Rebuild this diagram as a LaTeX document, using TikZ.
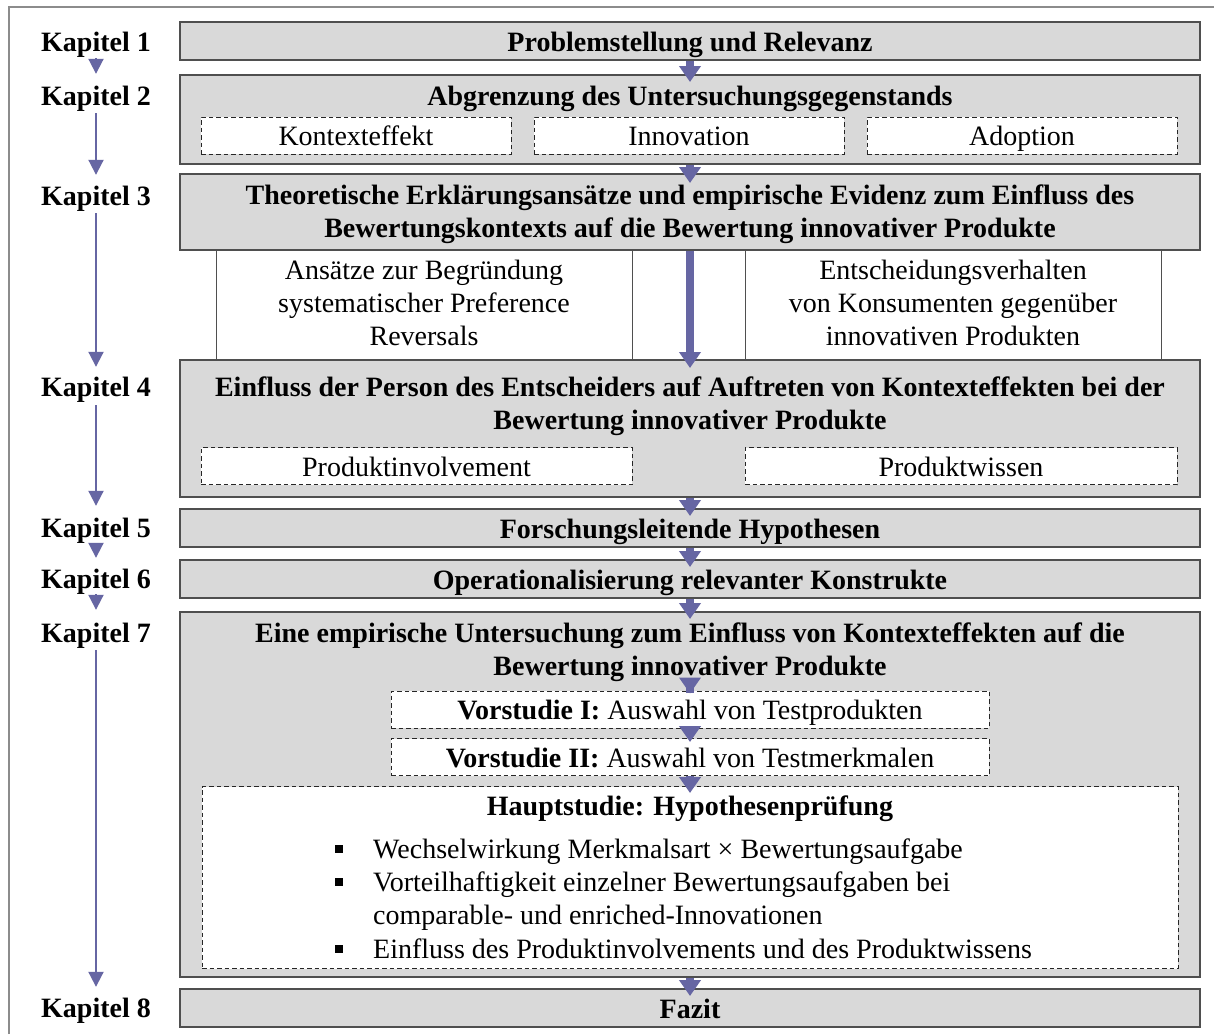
\documentclass[tikz,border=0pt]{standalone}
\usepackage{fontspec}
\setmainfont{Liberation Serif}
\usetikzlibrary{arrows.meta}
\definecolor{boxfill}{HTML}{D9D9D9}
\definecolor{boxline}{HTML}{4F4F4F}
\definecolor{arrc}{HTML}{6666A3}
\definecolor{framec}{HTML}{8C8C8C}
\newcommand\bfs{\fontsize{28}{33.4}\selectfont\bfseries}
\newcommand\rgs{\fontsize{28}{33.4}\selectfont}
\newcommand\bul{\makebox[38pt][l]{\rule[5.5pt]{8pt}{8pt}}}
\begin{document}
\begin{tikzpicture}[x=1pt,y=-1pt,
  mainbox/.style={draw=boxline, fill=boxfill, line width=1.5pt, minimum width=1020pt, inner sep=0pt, anchor=north, text height=27pt, text depth=5pt, font=\bfs},
  dashbox/.style={draw=black!85, fill=white, line width=1pt, dash pattern=on 4.5pt off 3pt, inner sep=0pt, minimum height=37pt, text height=26pt, text depth=6pt, font=\rgs},
  colbox/.style={draw=boxline, fill=white, line width=1.2pt, inner sep=0pt, anchor=north west, minimum width=416pt, minimum height=110pt},
  kap/.style={font=\bfs, inner sep=0pt, text height=19pt, text depth=6pt, anchor=base},
  ttl/.style={font=\bfs, inner sep=0pt, anchor=base},
  rtxt/.style={font=\rgs, inner sep=0pt, anchor=base},
  karr/.style={draw=arrc, line width=2pt, -{Triangle[width=15pt,length=15pt]}},
  carr/.style={draw=arrc, line width=8pt, -{Triangle[width=21pt,length=16pt]}},
]
\useasboundingbox (0,0) rectangle (1214,1034);
\fill[white] (0,0) rectangle (1214,1034);
\draw[framec, line width=1.5pt] (9,1034) -- (9,7) -- (1214,7);

% chapter labels
\node[kap] (k1) at (96,51) {Kapitel 1};
\node[kap] (k2) at (96,105) {Kapitel 2};
\node[kap] (k3) at (96,205) {Kapitel 3};
\node[kap] (k4) at (96,396) {Kapitel 4};
\node[kap] (k5) at (96,537) {Kapitel 5};
\node[kap] (k6) at (96,588) {Kapitel 6};
\node[kap] (k7) at (96,642) {Kapitel 7};
\node[kap] (k8) at (96,1017) {Kapitel 8};

\draw[karr, shorten <=1pt, shorten >=12pt] (k1.south) -- (k2.north);
\draw[karr, shorten <=2pt, shorten >=11pt] (k2.south) -- (k3.north);
\draw[karr, shorten <=2pt, shorten >=10pt] (k3.south) -- (k4.north);
\draw[karr, shorten <=3pt, shorten >=12pt] (k4.south) -- (k5.north);
\draw[karr, shorten >=11pt] (k5.south) -- (k6.north);
\draw[karr, shorten >=13pt] (k6.south) -- (k7.north);
\draw[karr, shorten <=2pt, shorten >=11pt] (k7.south) -- (k8.north);

% middle column boxes
\node[colbox] (c1) at (216,249) {};
\node[colbox] (c2) at (745,249) {};
\node[rtxt] (c1t) at (424,279) {\begin{tabular}[t]{@{}c@{}}Ansätze zur Begründung\\systematischer Preference\\Reversals\end{tabular}};
\node[rtxt] (c2t) at (953,279) {\begin{tabular}[t]{@{}c@{}}Entscheidungsverhalten\\von Konsumenten gegenüber\\innovativen Produkten\end{tabular}};

% main boxes
\node[mainbox, minimum height=38pt] (b1) at (690,21) {Problemstellung und Relevanz};

\node[mainbox, minimum height=89pt] (b2) at (690,74) {};
\node[ttl] (t2) at (690,105) {Abgrenzung des Untersuchungsgegenstands};
\node[dashbox, minimum width=310pt] (d21) at (356,135.5) {Kontexteffekt};
\node[dashbox, minimum width=310pt] (d22) at (689,135.5) {Innovation};
\node[dashbox, minimum width=310pt] (d23) at (1022,135.5) {Adoption};

\node[mainbox, minimum height=76pt] (b3) at (690,173) {};
\node[ttl] (t3) at (690,204) {\begin{tabular}[t]{@{}c@{}}Theoretische Erklärungsansätze und empirische Evidenz zum Einfluss des\\Bewertungskontexts auf die Bewertung innovativer Produkte\end{tabular}};

\node[mainbox, minimum height=137pt] (b4) at (690,359) {};
\node[ttl] (t4) at (690,396) {\begin{tabular}[t]{@{}c@{}}Einfluss der Person des Entscheiders auf Auftreten von Kontexteffekten bei der\\Bewertung innovativer Produkte\end{tabular}};
\node[dashbox, minimum width=431pt] (d41) at (416.5,466) {Produktinvolvement};
\node[dashbox, minimum width=432pt] (d42) at (961,466) {Produktwissen};

\node[mainbox, minimum height=38pt] (b5) at (690,508) {Forschungsleitende Hypothesen};
\node[mainbox, minimum height=38pt] (b6) at (690,559) {Operationalisierung relevanter Konstrukte};

\node[mainbox, minimum height=365pt] (b7) at (690,611) {};
\node[ttl] (t7) at (690,642) {\begin{tabular}[t]{@{}c@{}}Eine empirische Untersuchung zum Einfluss von Kontexteffekten auf die\\Bewertung innovativer Produkte\end{tabular}};
\node[dashbox, minimum width=598pt] (v1) at (690,709.5) {\textbf{Vorstudie I:} Auswahl von Testprodukten};
\node[dashbox, minimum width=598pt] (v2) at (690,757) {\textbf{Vorstudie II:} Auswahl von Testmerkmalen};
\node[dashbox, minimum width=976pt, minimum height=182pt, anchor=north] (h) at (690,786) {};
\node[ttl] (ht) at (690,815) {Hauptstudie: Hypothesenprüfung};
\node[rtxt, anchor=base west] (hl) at (335,858) {\begin{tabular}[t]{@{}l@{}l@{}}
\bul & Wechselwirkung Merkmalsart × Bewertungsaufgabe\\
\bul & Vorteilhaftigkeit einzelner Bewertungsaufgaben bei\\
 & comparable- und enriched-Innovationen\\
\bul & Einfluss des Produktinvolvements und des Produktwissens
\end{tabular}};

\node[mainbox, minimum height=38pt] (b8) at (690,988) {Fazit};

% centre arrows
\draw[carr, shorten >=-8pt] (b1.south) -- (b2.north);
\draw[carr, shorten >=-10pt] (b2.south) -- (b3.north);
\draw[carr, shorten >=-9pt] (b3.south) -- (b4.north);
\draw[carr, shorten >=-8pt] (b4.south) -- (b5.north);
\draw[carr, shorten >=-8pt] (b5.south) -- (b6.north);
\draw[carr, shorten >=-8pt] (b6.south) -- (b7.north);
\draw[carr, shorten <=-7pt, shorten >=-3pt] (t7.south) -- (v1.north);
\draw[carr, shorten >=-4pt] (v1.south) -- (v2.north);
\draw[carr, shorten >=-7pt] (v2.south) -- (h.north);
\draw[carr, shorten >=-8pt] (b7.south) -- (b8.north);
\end{tikzpicture}
\end{document}
